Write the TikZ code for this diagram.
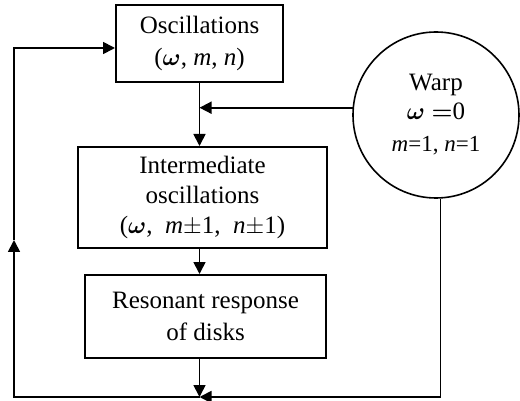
\documentclass[tikz,border=0pt]{standalone}
\usepackage{amsmath}
\usepackage{fontspec}
\setmainfont{Liberation Serif}
\usetikzlibrary{arrows.meta,positioning}

\begin{document}
\begin{tikzpicture}
  [x=0.5pt,y=-0.5pt,
   every node/.style={font=\fontsize{12.5}{15}\selectfont,align=center},
   blk/.style={draw,rectangle,line width=1pt,inner sep=0pt},
   flow/.style={line width=0.85pt,-{Triangle[length=6pt,width=6pt]}}]
  \useasboundingbox (0,0) rectangle (520,401);

  \node[blk,minimum width=83.5pt,minimum height=38.5pt] (osc) at (199.5,43.5)
    {Oscillations\\[1pt]($\boldsymbol{\omega}$, \textit{m}, \textit{n})};
  \node[blk,minimum width=124.5pt,minimum height=50.5pt] (inter) at (202.5,197.5)
    {Intermediate\\oscillations\\($\boldsymbol{\omega}$,~ \textit{m}$\pm$1,~ \textit{n}$\pm$1)};
  \node[blk,minimum width=120.5pt,minimum height=41.5pt,
        font=\fontsize{12.5}{16}\selectfont] (reson) at (205.5,316.5)
    {Resonant response\\of disks};
  \node[draw,circle,line width=0.8pt,inner sep=0pt,minimum size=83pt,
        font=\fontsize{12.5}{14.5}\selectfont] (warp) at (436,115)
    {Warp\\$\boldsymbol{\omega}\boldsymbol{=}$0\\[1.5pt]{\fontsize{11.5}{14}\selectfont\textit{m}=1, \textit{n}=1}};

  \coordinate (jw) at (osc.south |- warp.175);
  \coordinate (jb) at (199.5,397);
  \coordinate (bl) at (14,397);
  \coordinate (lm) at (14,240);
  \coordinate (tl) at (14,48);

  \draw[flow] (osc.south) -- (osc.south |- inter.north);
  \draw[flow] (warp.175) -- (jw);
  \draw[flow] (osc.south |- inter.south) -- (osc.south |- reson.north);
  \draw[flow] (osc.south |- reson.south) -- (jb);
  \draw[flow] (warp.-87) |- (jb);
  \draw[flow] (jb) -- (bl) -- (lm);
  \draw[flow] (lm) -- (tl) -- (osc.west |- tl);

\end{tikzpicture}
\end{document}
